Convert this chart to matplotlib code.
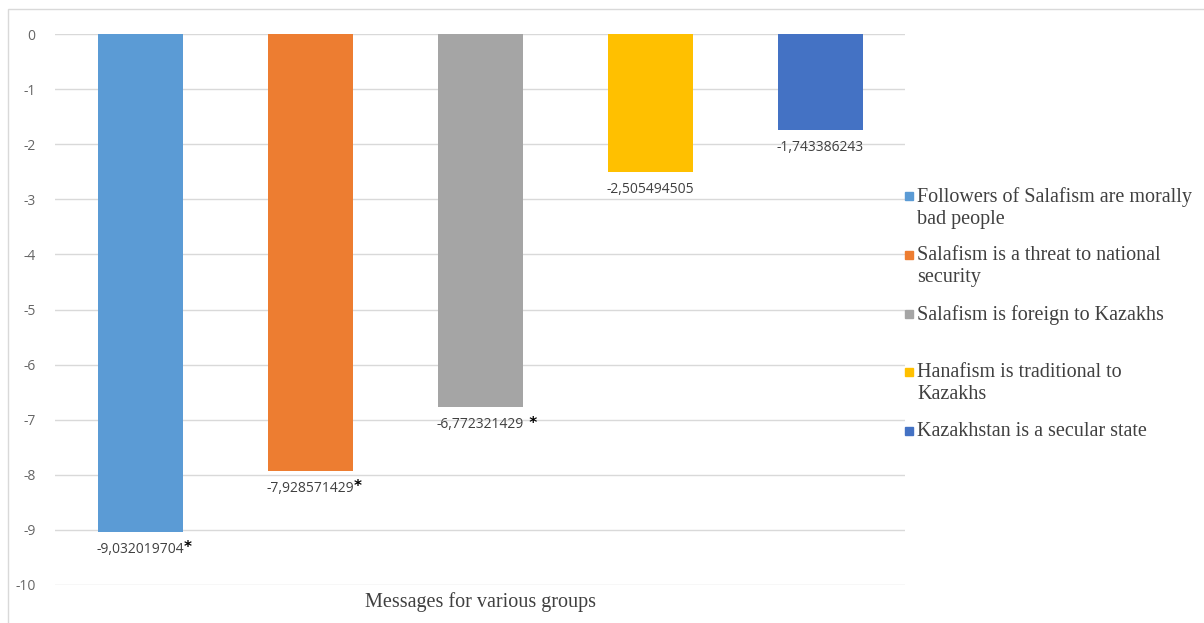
import matplotlib.pyplot as plt
from matplotlib.patches import Rectangle

messages = [
    'Followers of Salafism are morally\nbad people',
    'Salafism is a threat to national\nsecurity',
    'Salafism is foreign to Kazakhs',
    'Hanafism is traditional to\nKazakhs',
    'Kazakhstan is a secular state',
]
values = [-9.032019704, -7.928571429, -6.772321429, -2.505494505, -1.743386243]
value_labels = ['-9,032019704', '-7,928571429', '-6,772321429', '-2,505494505', '-1,743386243']
stars = ['*', '*', ' *', '', '']
colors = ['#5b9bd5', '#ed7d31', '#a5a5a5', '#ffc000', '#4472c4']
yticks = list(range(0, -11, -1))

fig = plt.figure(figsize=(12.04, 6.23), dpi=100)
ax = fig.add_axes([0.0457, 0.061, 0.706, 0.8844])

x = list(range(len(values)))
bars = ax.bar(x, values, width=0.5, color=colors, zorder=3)

for xi, v, lab, st in zip(x, values, value_labels, stars):
    t = ax.annotate(lab, xy=(xi, v), xytext=(0, -12.5), textcoords='offset points',
                    ha='center', va='center', fontsize=10, color='#404040',
                    family='Open Sans')
    if st:
        ax.annotate(st, xy=(1, 0.5), xycoords=t, xytext=(0, 1), textcoords='offset points',
                    ha='left', va='center', fontsize=11, color='black', fontweight='bold',
                    family='DejaVu Sans')

ax.set_xlim(-0.5, 4.5)
ax.set_ylim(-10, 0)
ax.set_yticks(yticks)
ax.set_yticklabels([str(t) for t in yticks])
ax.set_xticks([])
ax.tick_params(axis='y', length=0, pad=14, labelsize=10, labelcolor='#666666')
for lbl in ax.get_yticklabels():
    lbl.set_family('Open Sans')
ax.grid(axis='y', color='#d9d9d9', linewidth=1, zorder=0)
for s in ax.spines.values():
    s.set_visible(False)
ax.set_xlabel('Messages for various groups', family='Liberation Serif', fontsize=14.5,
              color='#404040', labelpad=5)

# legend drawn by hand to follow the original spacing
leg_y = [196, 255, 314, 372, 431]
H = 623.0
W = 1204.0
for yy, lab, c in zip(leg_y, messages, colors):
    fig.patches.append(Rectangle((905 / W, 1 - (yy + 4) / H), 8 / W, 8 / H,
                                 transform=fig.transFigure, color=c))
    fig.text(917 / W, 1 - (yy - 9) / H, lab, ha='left', va='top', family='Liberation Serif',
             fontsize=14.5, color='#404040', linespacing=1.2,
             transform=fig.transFigure)

# outer frame
fig.patches.append(Rectangle((8 / W, -0.01), 1.0, 1 - 9 / H + 0.01, transform=fig.transFigure,
                             fill=False, edgecolor='#d9d9d9', linewidth=1))

fig.savefig('out.png', dpi=100)
